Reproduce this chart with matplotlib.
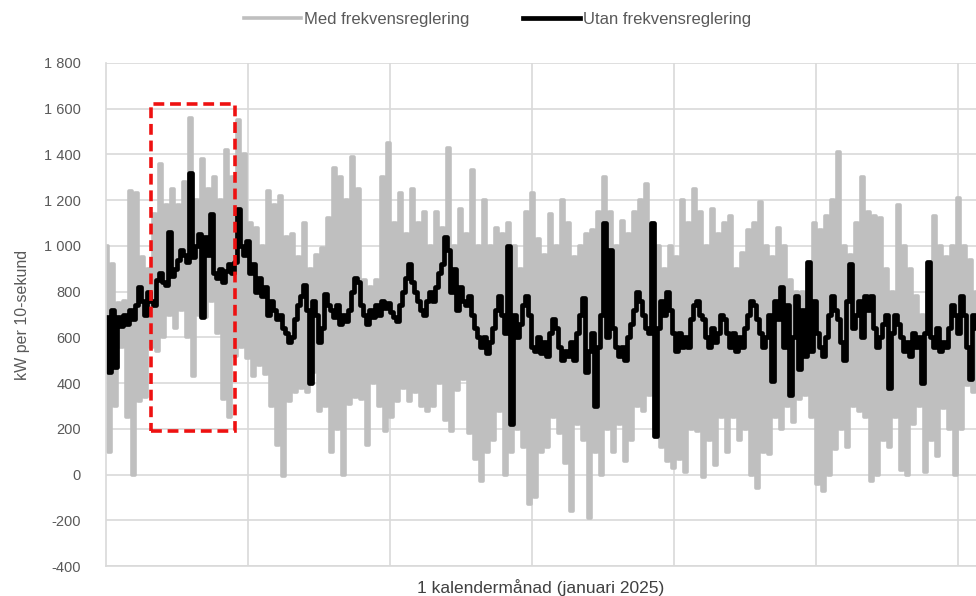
import numpy as np
import matplotlib
matplotlib.use("Agg")
import matplotlib.pyplot as plt
from matplotlib.patches import Rectangle

# values, one per ~3 px across the plot
med_frekv = [
    1000, 100, 920, 300, 750, 560, 760, 250, 1240, 0,
    1230, 320, 950, 340, 900, 560, 1140, 540, 1360, 600,
    1180, 700, 1250, 640, 1180, 720, 1280, 600, 1560, 430,
    1200, 700, 1380, 690, 1250, 760, 1300, 620, 1200, 330,
    1420, 250, 1300, 520, 1550, 560, 1400, 510, 1100, 430,
    1080, 480, 1000, 440, 1240, 300, 1180, 130, 1220, -5,
    1040, 320, 1050, 360, 950, 380, 1100, 360, 900, 450,
    960, 280, 990, 300, 1120, 100, 1340, 200, 1300, 0,
    1200, 310, 1390, 340, 1250, 330, 850, 130, 820, 400,
    850, 300, 1300, 190, 1450, 250, 1100, 320, 1230, 380,
    1050, 320, 1250, 360, 1100, 300, 1150, 280, 1000, 300,
    1150, 400, 1080, 240, 1430, 190, 1000, 370, 1160, 420,
    1050, 180, 1330, 70, 1000, -30, 1200, 100, 1000, 150,
    1080, 280, 1050, 0, 1100, 100, 1000, 200, 900, 120,
    1150, -130, 1230, -100, 1030, 100, 960, 120, 1140, 250,
    1000, 180, 1200, 50, 1100, -160, 950, 220, 1000, 150,
    1050, -190, 1070, 100, 1150, 0, 1300, 200, 1150, 100,
    1000, 220, 1110, 60, 1050, 150, 1150, 300, 1200, 280,
    1270, 350, 1100, 200, 1000, 120, 900, 60, 1000, 30,
    950, 70, 1200, 10, 1100, 200, 1250, 190, 1150, -10,
    1000, 150, 1160, 40, 1050, 250, 1100, 100, 1130, 250,
    900, 150, 970, 200, 1070, 0, 1100, -60, 1190, 100,
    1000, 90, 950, 250, 1080, 200, 1000, 300, 850, 230,
    800, 330, 800, 350, 900, 250, 1100, -40, 1070, -70,
    1130, 0, 1200, 110, 1410, 200, 1000, 120, 960, 300,
    1100, 280, 1300, 250, 1150, -30, 1130, 0, 1120, 150,
    900, 120, 800, 250, 1180, 20, 1000, 0, 900, 220,
    780, 300, 700, 10, 800, 150, 1130, 80, 1000, 290,
    950, 200, 1000, 0, 1210, 200, 1000, 390, 940, 360,
    800,
]

utan_frekv = [
    690, 450, 720, 470, 690, 650, 700, 660, 720, 680,
    740, 820, 760, 700, 800, 760, 740, 850, 880, 840,
    830, 1060, 870, 900, 940, 980, 960, 930, 1320, 950,
    1000, 1050, 690, 1040, 960, 1140, 880, 860, 900, 840,
    890, 920, 880, 930, 1160, 1000, 960, 1020, 880, 920,
    800, 860, 780, 820, 700, 760, 720, 680, 700, 640,
    620, 580, 600, 680, 740, 780, 830, 720, 400, 760,
    700, 580, 640, 790, 740, 720, 690, 740, 660, 700,
    670, 720, 800, 860, 840, 740, 700, 660, 720, 690,
    740, 700, 760, 730, 750, 710, 690, 670, 740, 800,
    860, 920, 840, 800, 760, 720, 700, 760, 800, 760,
    820, 880, 920, 1040, 980, 800, 900, 720, 820, 760,
    740, 780, 700, 640, 600, 560, 600, 530, 580, 640,
    720, 780, 700, 620, 1000, 220, 700, 600, 660, 740,
    780, 700, 560, 540, 600, 530, 580, 520, 620, 680,
    640, 560, 500, 540, 520, 580, 500, 620, 700, 770,
    450, 540, 620, 300, 560, 700, 1100, 600, 980, 640,
    560, 520, 560, 500, 600, 660, 720, 800, 760, 700,
    640, 620, 1100, 170, 640, 760, 700, 800, 720, 620,
    540, 620, 560, 600, 560, 680, 740, 760, 700, 680,
    600, 560, 640, 580, 620, 700, 680, 620, 560, 620,
    540, 600, 560, 640, 700, 760, 740, 680, 620, 560,
    600, 700, 410, 760, 680, 820, 560, 740, 350, 600,
    780, 460, 720, 520, 930, 540, 760, 620, 560, 520,
    600, 700, 780, 720, 680, 580, 500, 760, 920, 640,
    700, 760, 600, 780, 720, 780, 640, 560, 600, 660,
    700, 380, 620, 700, 660, 600, 540, 580, 520, 620,
    560, 600, 400, 620, 930, 600, 560, 640, 540, 580,
    560, 640, 740, 700, 620, 780, 700, 560, 420, 700,
    640,
]

series_labels = ["Med frekvensreglering", "Utan frekvensreglering"]
x_label = "1 kalendermånad (januari 2025)"
y_label = "kW per 10-sekund"
y_ticks = [-400, -200, 0, 200, 400, 600, 800, 1000, 1200, 1400, 1600, 1800]
# highlighted window (index range, kW range)
box_x = (15, 43)
box_y = (190, 1620)

plt.rcParams['font.family'] = ['Liberation Sans', 'DejaVu Sans']

x = np.arange(len(med_frekv))

fig = plt.figure(figsize=(9.76, 5.96), dpi=100)
ax = fig.add_axes([106 / 976, 1 - 566 / 596, 870 / 976, 503 / 596])

ax.plot(x, med_frekv, color='#bfbfbf', lw=2.6, label=series_labels[0],
        drawstyle='steps-mid')
ax.plot(x, utan_frekv, color='black', lw=3.4, label=series_labels[1],
        drawstyle='steps-mid')

ax.add_patch(Rectangle((box_x[0], box_y[0]), box_x[1] - box_x[0],
                       box_y[1] - box_y[0], fill=False, edgecolor='#ee1111',
                       lw=2.6, ls=(0, (3, 1.6)), zorder=5))

ax.set_xlim(0, len(med_frekv) - 1)
ax.set_ylim(-400, 1800)
ax.set_yticks(y_ticks)
ax.set_yticklabels([f"{v:,}".replace(",", " ") for v in y_ticks],
                   color='#595959', fontsize=10.5)
ax.set_xticks(np.arange(1, 7) * 47.33)
ax.set_xticklabels([])
ax.tick_params(length=0)
ax.tick_params(axis='y', pad=18)

ax.grid(True, color='#d9d9d9', lw=1.2)
ax.set_axisbelow(True)
for s in ['top', 'right']:
    ax.spines[s].set_visible(False)
for s in ['left', 'bottom']:
    ax.spines[s].set_color('#d9d9d9')
    ax.spines[s].set_linewidth(1.2)

ax.set_xlabel(x_label, fontsize=12.5, color='#404040', labelpad=6)
ax.set_ylabel(y_label, fontsize=11.5, color='#595959', labelpad=10)

fig.legend(loc='center', bbox_to_anchor=(0.51, 0.968), ncol=2, frameon=False,
           fontsize=12, labelcolor='#595959', handlelength=3.4,
           handletextpad=0.2, columnspacing=3.2)

fig.savefig('out.png', dpi=100)
